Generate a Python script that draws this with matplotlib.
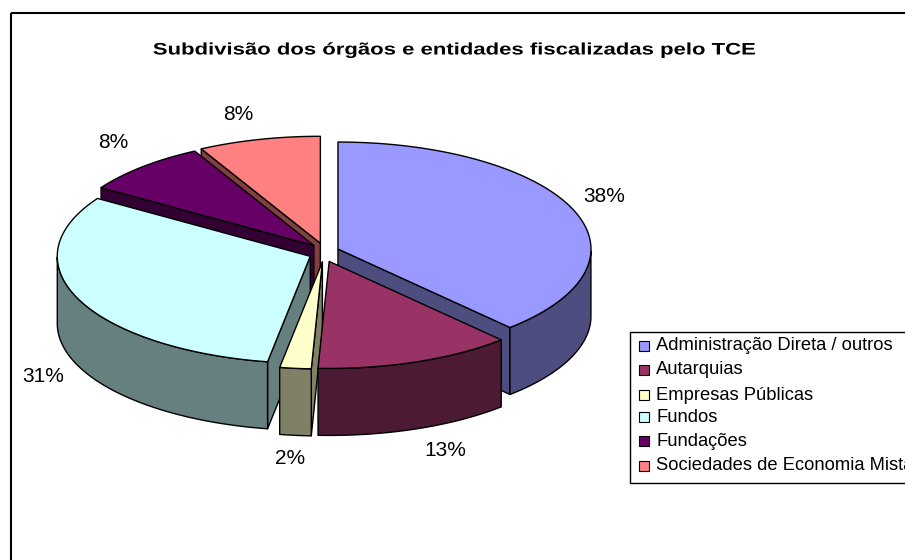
import numpy as np
import matplotlib
matplotlib.use("Agg")
import matplotlib.pyplot as plt
from matplotlib.patches import Rectangle
from matplotlib.patheffects import AbstractPathEffect

plt.rcParams['font.family'] = ['Liberation Sans', 'DejaVu Sans']

title = "Subdivisão dos órgãos e entidades fiscalizadas pelo TCE"
labels = ["Administração Direta / outros", "Autarquias", "Empresas Públicas",
          "Fundos", "Fundações", "Sociedades de Economia Mista"]
values = [38.1, 12.6, 2.0, 31.4, 8.1, 7.8]
top_colors = ["#9999FF", "#993366", "#FFFFCC", "#CCFFFF", "#660066", "#FF8080"]
side_colors = ["#4D4D80", "#4D1A33", "#808066", "#668080", "#330033", "#804040"]
label_pos = [(604, 197), (445, 450), (290, 458), (43, 376), (113, 143), (238, 115)]

# geometria do "pie 3D" em pixels
cx, cy = 324, 252.5
rx, ry = 253, 107
ex, ey = 15, 9.5
depth = 67


class Stretch(AbstractPathEffect):
    # o titulo original tem as letras bem espacadas
    def __init__(self, factor, xc):
        super().__init__()
        self.factor, self.xc = factor, xc

    def draw_path(self, renderer, gc, tpath, affine, rgbFace=None):
        aff = affine.frozen().translate(-self.xc, 0).scale(self.factor, 1).translate(self.xc, 0)
        renderer.draw_path(gc, tpath, aff, rgbFace)


fig = plt.figure(figsize=(9.05, 5.6), dpi=100)
ax = fig.add_axes([0, 0, 1, 1])
ax.set_xlim(0, 905)
ax.set_ylim(560, 0)
ax.axis("off")

ax.add_patch(Rectangle((11, 13), 950, 600, fill=False, ec="black", lw=1.5))
ax.text(452, 50, title, ha="center", va="center", fontsize=12, fontweight="bold",
        path_effects=[Stretch(1.326, 452)])

edges = np.concatenate([[0], np.cumsum(values)]) * 360.0 / sum(values)


def point(ox, oy, ang):
    a = np.radians(ang)
    return ox + rx * np.sin(a), oy - ry * np.cos(a)


def draw_slice(i):
    a0, a1 = edges[i], edges[i + 1]
    mid = np.radians((a0 + a1) / 2)
    ox = cx + ex * np.sin(mid)
    oy = cy - ey * np.cos(mid)
    tt = np.linspace(a0, a1, 120)
    xs, ys = point(ox, oy, tt)

    # faces radiais
    for ang, normal in [(a0, a0 - 90), (a1, a1 + 90)]:
        if np.cos(np.radians(normal)) < 0:
            px, py = point(ox, oy, ang)
            ax.fill([ox, px, px, ox], [oy, py, py + depth, oy + depth],
                    fc=side_colors[i], ec="black", lw=1, joinstyle="round")

    # parede externa
    keep = np.cos(np.radians(tt)) <= 0
    if keep.any():
        wx, wy = xs[keep], ys[keep]
        ax.fill(np.r_[wx, wx[::-1]], np.r_[wy, wy[::-1] + depth],
                fc=side_colors[i], ec="black", lw=1, joinstyle="round")

    # topo
    ax.fill(np.r_[ox, xs], np.r_[oy, ys], fc=top_colors[i], ec="black", lw=1,
            joinstyle="round")


for i in [5, 4, 0, 3, 2, 1]:
    draw_slice(i)

for v, (x, y) in zip(values, label_pos):
    ax.text(x, y, f"{v:.0f}%", ha="center", va="center", fontsize=15)

# legenda
ax.add_patch(Rectangle((630, 332), 300, 151, fc="white", ec="black", lw=1, zorder=5))
leg_y = [346, 370, 395, 417, 441, 466]
for lab, col, y in zip(labels, top_colors, leg_y):
    ax.add_patch(Rectangle((639, y - 5), 10, 10, fc=col, ec="black", lw=0.8, zorder=6))
    ax.text(656, y, lab, ha="left", va="center", fontsize=13.2, zorder=6)

fig.savefig("out.png", dpi=100)
